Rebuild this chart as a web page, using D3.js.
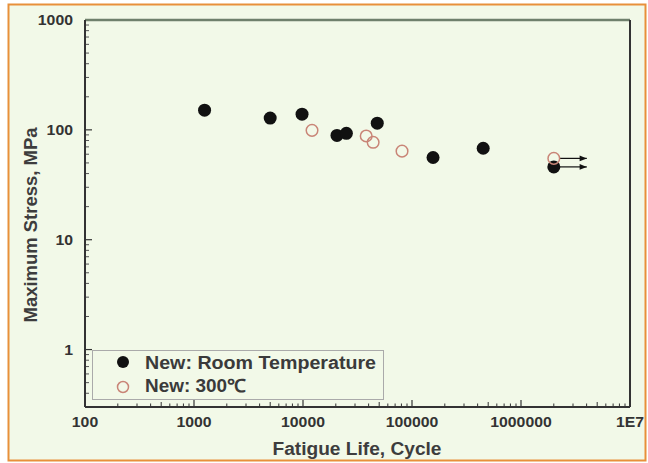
<!DOCTYPE html>
<html>
<head>
<meta charset="utf-8">
<script src="https://cdn.jsdelivr.net/npm/d3@7"></script>
<style>
body { margin: 0; background: #fff; }
svg text { font-family: Arial, "Liberation Sans", sans-serif; }
</style>
</head>
<body>
<div id="chart"></div>
<script>
"use strict"

// data
var roomLife = [1250, 5000, 9800, 20500, 25000, 48000, 156000, 450000, 2000000];
var roomStress = [151, 128, 139, 89, 93, 115, 56, 68, 46];
var hotLife = [12100, 38000, 44000, 81000, 2000000];
var hotStress = [99, 88, 77, 64, 55];
var runoutIdx = [8]; // points with arrows (index in each series)
var xTicks = [100, 1000, 10000, 100000, 1000000, 10000000];
var xTickLabels = ["100", "1000", "10000", "100000", "1000000", "1E7"];
var yTicks = [1, 10, 100, 1000];
var yTickLabels = ["1", "10", "100", "1000"];
var legendLabels = ["New: Room Temperature", "New: 300\u2103"];

var W = 648, H = 463;
var margin = {top: 20, right: 18, bottom: 56, left: 85};
var w = 630 - margin.left, h = 407 - margin.top;
var stretch = 1.13; // the picture is a bit wider than tall

var svg = d3.select("#chart").append("svg")
	.attr("width", W)
	.attr("height", H);

// frame
svg.append("rect")
	.attr("x", 8.5).attr("y", 4.5)
	.attr("width", 637).attr("height", 456)
	.attr("fill", "#f2f9e8")
	.attr("stroke", "#e8903a")
	.attr("stroke-width", 2);

var g = svg.append("g")
	.attr("transform", "translate(" + margin.left + "," + margin.top + ")");

var xscale = d3.scaleLog()
	.domain([100, 1e7])
	.range([0, w]);

var yscale = d3.scaleLog()
	.domain([0.3, 1000])
	.range([h, 0]);

// minor ticks
var xMinor = [];
for (var d = 100; d < 1e7; d *= 10) {
	for (var k = 2; k <= 9; k++) xMinor.push(d * k);
}
var yMinor = [];
for (var k = 3; k <= 9; k++) yMinor.push(k / 10);
for (var d = 1; d < 1000; d *= 10) {
	for (var k = 2; k <= 9; k++) yMinor.push(d * k);
}

g.selectAll(".xminor").data(xMinor).enter().append("line")
	.attr("x1", function(d) {return xscale(d)})
	.attr("x2", function(d) {return xscale(d)})
	.attr("y1", h).attr("y2", function(d, i) {return h - ((i % 8) == 3 ? 5 : 3.5)})
	.attr("stroke", "#333").attr("stroke-width", 1);

g.selectAll(".xmajor").data(xTicks).enter().append("line")
	.attr("x1", function(d) {return xscale(d)})
	.attr("x2", function(d) {return xscale(d)})
	.attr("y1", h).attr("y2", h - 7)
	.attr("stroke", "#333").attr("stroke-width", 1.2);

g.selectAll(".yminor").data(yMinor).enter().append("line")
	.attr("x1", 0).attr("x2", 4)
	.attr("y1", function(d) {return yscale(d)})
	.attr("y2", function(d) {return yscale(d)})
	.attr("stroke", "#555").attr("stroke-width", 1);

g.selectAll(".ymajor").data(yTicks).enter().append("line")
	.attr("x1", 0).attr("x2", 7)
	.attr("y1", function(d) {return yscale(d)})
	.attr("y2", function(d) {return yscale(d)})
	.attr("stroke", "#333").attr("stroke-width", 1.2);

// axes box
g.append("line").attr("x1", 0).attr("x2", w).attr("y1", 0).attr("y2", 0)
	.attr("stroke", "#6f806c").attr("stroke-width", 2.5);
g.append("line").attr("x1", w).attr("x2", w).attr("y1", 0).attr("y2", h)
	.attr("stroke", "#333").attr("stroke-width", 2);
g.append("line").attr("x1", 0).attr("x2", 0).attr("y1", 0).attr("y2", h)
	.attr("stroke", "#333").attr("stroke-width", 2);
g.append("line").attr("x1", 0).attr("x2", w).attr("y1", h).attr("y2", h)
	.attr("stroke", "#333").attr("stroke-width", 2);

// tick labels (stretched sideways like the picture)
g.selectAll(".xlab").data(xTicks).enter().append("text")
	.attr("transform", function(d) {return "translate(" + xscale(d) + "," + (h + 20) + ") scale(" + stretch + ",1)"})
	.attr("text-anchor", "middle")
	.attr("font-size", 14).attr("font-weight", "bold")
	.attr("fill", "#333")
	.text(function(d, i) {return xTickLabels[i]});

g.selectAll(".ylab").data(yTicks).enter().append("text")
	.attr("transform", function(d) {return "translate(-12," + (yscale(d) + 5) + ") scale(" + stretch + ",1)"})
	.attr("text-anchor", "end")
	.attr("font-size", 14).attr("font-weight", "bold")
	.attr("fill", "#333")
	.text(function(d, i) {return yTickLabels[i]});

// axis titles
svg.append("text")
	.attr("x", 357).attr("y", 455)
	.attr("text-anchor", "middle")
	.attr("font-size", 18).attr("font-weight", "bold")
	.attr("fill", "#3d3d3d")
	.attr("textLength", 169).attr("lengthAdjust", "spacingAndGlyphs")
	.text("Fatigue Life, Cycle");

svg.append("text")
	.attr("transform", "translate(37,225) rotate(-90)")
	.attr("text-anchor", "middle")
	.attr("font-size", 19).attr("font-weight", "bold")
	.attr("fill", "#3d3d3d")
	.attr("textLength", 195).attr("lengthAdjust", "spacingAndGlyphs")
	.text("Maximum Stress, MPa");

// run-out arrows
svg.append("defs").append("marker")
	.attr("id", "arr")
	.attr("viewBox", "0 0 10 10")
	.attr("refX", 10).attr("refY", 5)
	.attr("markerWidth", 8).attr("markerHeight", 6)
	.attr("orient", "auto")
	.append("path").attr("d", "M0,1 L10,5 L0,9 Z").attr("fill", "#111");

var arrows = [
	{x: roomLife[runoutIdx[0]], y: roomStress[runoutIdx[0]]},
	{x: hotLife[hotLife.length - 1], y: hotStress[hotStress.length - 1]}
];
g.selectAll(".arrow").data(arrows).enter().append("line")
	.attr("x1", function(d) {return xscale(d.x) + 6})
	.attr("x2", function(d) {return xscale(d.x) + 33})
	.attr("y1", function(d) {return yscale(d.y)})
	.attr("y2", function(d) {return yscale(d.y)})
	.attr("stroke", "#111").attr("stroke-width", 1.2)
	.attr("marker-end", "url(#arr)");

// points
var room = roomLife.map(function(v, i) {return {x: v, y: roomStress[i]}});
var hot = hotLife.map(function(v, i) {return {x: v, y: hotStress[i]}});

g.selectAll(".room").data(room).enter().append("circle")
	.attr("cx", function(d) {return xscale(d.x)})
	.attr("cy", function(d) {return yscale(d.y)})
	.attr("r", 6.5)
	.attr("fill", "#111");

g.selectAll(".hot").data(hot).enter().append("circle")
	.attr("cx", function(d) {return xscale(d.x)})
	.attr("cy", function(d) {return yscale(d.y)})
	.attr("r", 5.8)
	.attr("fill", "none")
	.attr("stroke", "#c98577")
	.attr("stroke-width", 1.5);

// legend
var lg = svg.append("g").attr("transform", "translate(92,350)");
lg.append("rect")
	.attr("x", 0.5).attr("y", 0.5)
	.attr("width", 291).attr("height", 49)
	.attr("fill", "none")
	.attr("stroke", "#aaa")
	.attr("stroke-width", 1);
lg.append("circle").attr("cx", 31).attr("cy", 12).attr("r", 6).attr("fill", "#111");
lg.append("circle").attr("cx", 31).attr("cy", 37).attr("r", 5.5)
	.attr("fill", "none").attr("stroke", "#c98577").attr("stroke-width", 1.5);
var legendWidths = [231, 101];
lg.selectAll(".ltxt").data(legendLabels).enter().append("text")
	.attr("x", 53)
	.attr("y", function(d, i) {return 19 + i * 23})
	.attr("font-size", 18).attr("font-weight", "bold")
	.attr("fill", "#3a3a3a")
	.attr("textLength", function(d, i) {return legendWidths[i]})
	.attr("lengthAdjust", "spacingAndGlyphs")
	.text(function(d) {return d});
</script>
</body>
</html>
